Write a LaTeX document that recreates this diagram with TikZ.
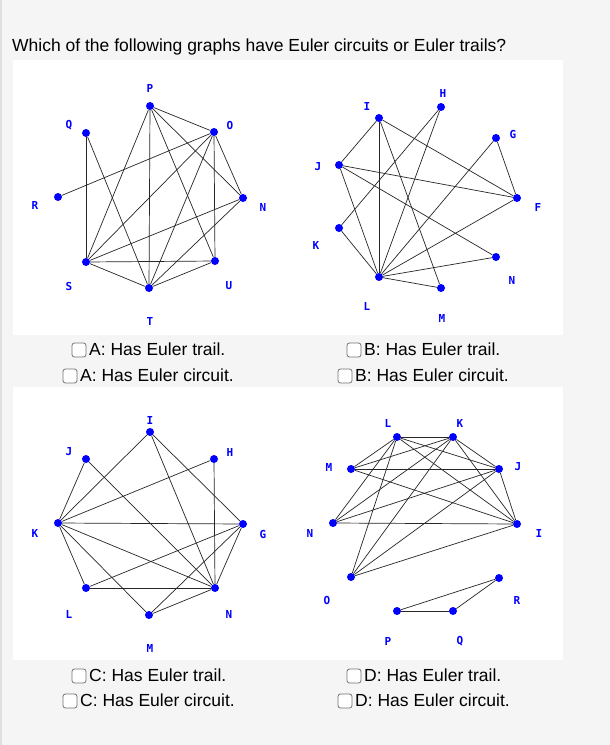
\documentclass[tikz,border=0pt]{standalone}
\usepackage{fontspec}
\setmainfont{Liberation Sans}
\newfontfamily\labfont{DejaVu Sans Mono}
\begin{document}
\begin{tikzpicture}[x=1pt,y=-1pt,
  v/.style={circle,fill=blue,inner sep=0pt,minimum size=8pt},
  lab/.style={text=blue,font=\fontsize{11}{11}\selectfont\labfont\bfseries,inner sep=0pt},
  e/.style={draw=black!85,line width=0.7pt},
  opt/.style={anchor=west,font=\fontsize{17.5}{20}\selectfont,inner sep=0pt},
  cbx/.style={draw=black!55,rounded corners=2.5pt,line width=0.8pt,fill=white}]
\useasboundingbox (0,0) rectangle (610,745);
\fill[black!4] (0,0) rectangle (610,745);
\fill[black!12] (0,0) rectangle (2,745);
\fill[white] (13,60) rectangle (563,335);
\fill[white] (13,387) rectangle (563,660);
\node[anchor=west,font=\fontsize{17.5}{20}\selectfont,inner sep=0pt] (title) at (12,47) {Which of the following graphs have Euler circuits or Euler trails?};

% Graph A
\begin{scope}
\node[v] (P) at (150,106) {}; \node[v] (Q) at (86,133) {}; \node[v] (O) at (214,132) {};
\node[v] (R) at (58,197) {}; \node[v] (N) at (243,198) {}; \node[v] (S) at (86,262) {};
\node[v] (U) at (215,261) {}; \node[v] (T) at (149,288) {};
\foreach \n/\x/\y in {P/150/88,Q/69/125,O/230/125,R/35/205,N/263/207,S/69/286,U/229/286,T/150/321}
  \node[lab] (l\n) at (\x,\y) {\n};
\foreach \a/\b in {P/O,P/N,P/S,P/T,P/U,Q/S,Q/T,R/O,O/S,O/T,O/U,O/N,N/S,N/T,S/U,S/T,T/U}
  \draw[e] (\a) -- (\b);
\end{scope}

% Graph B
\begin{scope}
\node[v] (bH) at (441,107) {}; \node[v] (bI) at (379,118) {}; \node[v] (bG) at (496,138) {};
\node[v] (bJ) at (339,165) {}; \node[v] (bF) at (517,198) {}; \node[v] (bK) at (339,228) {};
\node[v] (bN) at (496,257) {}; \node[v] (bL) at (379,277) {}; \node[v] (bM) at (441,288) {};
\foreach \n/\x/\y in {H/443/93,I/367/106,G/513/134,J/318/167,F/538/207,K/316/245,N/512/280,L/367/306,M/442/318}
  \node[lab] (lb\n) at (\x,\y) {\n};
\foreach \a/\b in {I/J,I/L,I/M,I/F,H/K,H/L,J/F,J/N,J/L,G/L,G/F,K/L,F/L,N/L,M/L}
  \draw[e] (b\a) -- (b\b);
\end{scope}

% Graph C
\begin{scope}
\node[v] (cI) at (150,432) {}; \node[v] (cJ) at (86,459) {}; \node[v] (cH) at (214,459) {};
\node[v] (cK) at (58,523) {}; \node[v] (cG) at (243,524) {}; \node[v] (cL) at (86,588) {};
\node[v] (cN) at (215,588) {}; \node[v] (cM) at (149,615) {};
\foreach \n/\x/\y in {I/150/420,J/69/452,H/230/452,K/35/533,G/263/534,L/69/614,N/229/614,M/150/648}
  \node[lab] (lc\n) at (\x,\y) {\n};
\foreach \a/\b in {I/K,I/N,I/G,J/K,J/N,H/K,H/N,K/G,K/N,K/L,K/M,G/L,G/N,G/M,L/N,M/N}
  \draw[e] (c\a) -- (c\b);
\end{scope}

% Graph D
\begin{scope}
\node[v] (dL) at (397,437) {}; \node[v] (dK) at (453,437) {}; \node[v] (dM) at (351,469) {};
\node[v] (dJ) at (499,469) {}; \node[v] (dN) at (333,523) {}; \node[v] (dI) at (517,524) {};
\node[v] (dO) at (351,577) {}; \node[v] (dR) at (499,578) {}; \node[v] (dP) at (397,611) {};
\node[v] (dQ) at (453,611) {};
\foreach \n/\x/\y in {L/388/423,K/460/423,M/329/467,J/518/467,N/310/533,I/539/533,O/327/600,R/517/600,P/388/641,Q/460/641}
  \node[lab] (ld\n) at (\x,\y) {\n};
\foreach \a/\b in {L/K,L/M,L/J,L/N,L/I,L/O,K/M,K/N,K/J,K/I,K/O,M/J,M/I,N/J,N/I,J/I,J/O,O/I,P/Q,P/R,Q/R}
  \draw[e] (d\a) -- (d\b);
\end{scope}

% options
\foreach \bx/\y/\t [count=\i] in {79/349/{A: Has Euler trail.},70/375/{A: Has Euler circuit.},354/349/{B: Has Euler trail.},345/375/{B: Has Euler circuit.},79/675/{C: Has Euler trail.},70/700/{C: Has Euler circuit.},354/675/{D: Has Euler trail.},345/700/{D: Has Euler circuit.}}{
  \draw[cbx] (\bx-7,\y-6) rectangle (\bx+7,\y+8);
  \node[opt] (opt\i) at (\bx+10,\y) {\t};
}
\end{tikzpicture}
\end{document}
